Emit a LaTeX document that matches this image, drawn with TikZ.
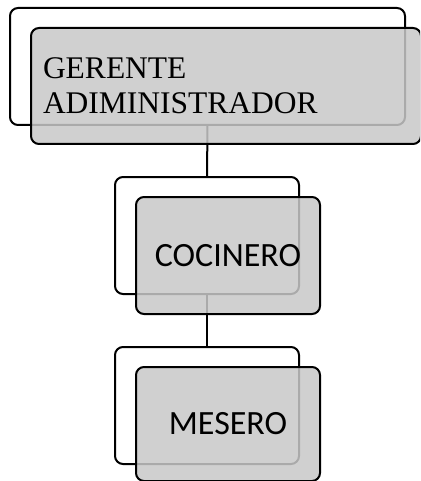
\documentclass[tikz,border=0pt]{standalone}
\usepackage{fontspec}
\setmainfont{Liberation Serif}
\newfontfamily\calibri{Carlito}
\definecolor{boxgray}{RGB}{200,200,200}
\tikzset{
  backbox/.style={draw=black, line width=2pt, rounded corners=8pt, fill=white,
    inner sep=0pt, outer sep=0pt},
  frontbox/.style={draw=black, line width=2pt, rounded corners=8pt, fill=boxgray,
    fill opacity=0.85, text opacity=1, inner sep=0pt, outer sep=0pt},
  link/.style={draw=black, line width=2pt},
}
\begin{document}
\begin{tikzpicture}[x=1pt,y=1pt]
\useasboundingbox (0,0) rectangle (420,-481);
\clip (0,0) rectangle (420,-481);
% back boxes
\node[backbox, minimum width=395pt, minimum height=117pt] (gb) at (207.5,-66.5) {};
\node[backbox, minimum width=184pt, minimum height=117pt] (cb) at (207,-235.5) {};
\node[backbox, minimum width=184pt, minimum height=117pt] (mb) at (207,-405.5) {};
% connectors
\draw[link] (gb.south) -- (cb.north);
\draw[link] (cb.south) -- (mb.north);
% front boxes
\node[frontbox, minimum width=390pt, minimum height=116pt, text width=366pt,
  inner xsep=12pt, align=left, font=\fontsize{31.5}{35}\selectfont]
  (gf) at (226,-86) {GERENTE\\ADIMINISTRADOR};
\node[frontbox, minimum width=184pt, minimum height=117pt,
  font=\calibri\fontsize{34}{41}\selectfont] (cf) at (228,-255.5) {COCINERO};
\node[frontbox, minimum width=184pt, minimum height=114pt,
  font=\calibri\fontsize{34}{41}\selectfont] (mf) at (228,-424) {MESERO};
\end{tikzpicture}
\end{document}
